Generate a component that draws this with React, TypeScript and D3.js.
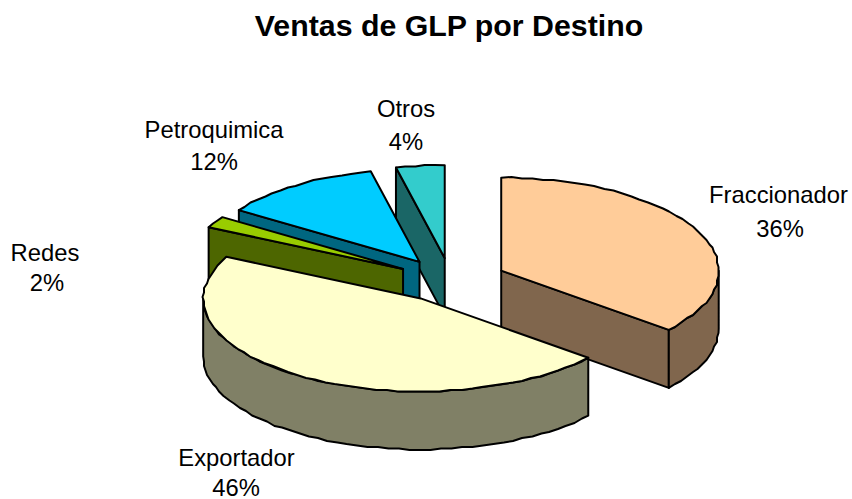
import React from "react";
import * as d3 from "d3";

const categories = ["Fraccionador", "Exportador", "Redes", "Petroquimica", "Otros"];
const values = [36.0, 46.4, 2.0, 12.0, 3.6];
const topColors = ["#FFCC99", "#FFFFCC", "#99CC00", "#00CCFF", "#33CCCC"];
const sideColors = ["#80664D", "#808066", "#4D6600", "#006680", "#1A6666"];
const labelAnchors: [number, number, number, number][] = [
  [778.5, 203, 780, 237],
  [236.5, 466, 236, 496],
  [45, 261, 47, 291],
  [214, 138, 214, 170],
  [406, 117, 406, 150],
];
const drawOrder = [4, 3, 2, 0, 1];

const W = 852;
const H = 499;
const CX = 451;
const CY = 280;
const RX = 217.5;
const RY = 93;
const DEPTH = 58;
const EX = 55.5;
const EY = 22;
const GRID = 1.5;

type Pt = [number, number];
const toPath = (pts: Pt[]) => d3.line()(pts) + "Z";
const snap = (p: Pt): Pt => [Math.round(p[0] / GRID) * GRID, Math.round(p[1] / GRID) * GRID];

export default function App() {
  const arcs = d3.pie<number>().sort(null).startAngle(0).endAngle(2 * Math.PI)(values);
  const percent = d3.format(".0f");

  const slices = arcs.map((a, i) => {
    const mid = (a.startAngle + a.endAngle) / 2;
    const ox = CX + EX * Math.sin(mid);
    const oy = CY - EY * Math.cos(mid);
    const at = (t: number, dy = 0): Pt => [
      ox + RX * Math.sin(t),
      oy - RY * Math.cos(t) + dy,
    ];
    const apex: Pt = [ox, oy];
    const sweep = (t0: number, t1: number, dy = 0): Pt[] => {
      const n = Math.max(2, Math.ceil(Math.abs(t1 - t0) / 0.05));
      return d3.range(n + 1).map((k) => {
        const p = at(t0 + ((t1 - t0) * k) / n, dy);
        return k === 0 || k === n ? p : snap(p);
      });
    };
    const top = toPath([apex, ...sweep(a.startAngle, a.endAngle)]);
    const faces: string[] = [];
    const lo = Math.max(a.startAngle, Math.PI / 2);
    const hi = Math.min(a.endAngle, (3 * Math.PI) / 2);
    if (Math.sin(a.startAngle) < 0) {
      const e = at(a.startAngle);
      faces.push(toPath([apex, e, [e[0], e[1] + DEPTH], [apex[0], apex[1] + DEPTH]]));
    }
    if (Math.sin(a.endAngle) > 0 && a.endAngle > Math.PI / 2 && i === 0) {
      const e = at(a.endAngle);
      faces.push(toPath([apex, e, [e[0], e[1] + DEPTH], [apex[0], apex[1] + DEPTH]]));
    }
    if (hi > lo) {
      faces.push(toPath([...sweep(lo, hi), ...sweep(lo, hi, DEPTH).reverse()]));
    }
    return { i, top, faces };
  });

  const stroke = { stroke: "#000", strokeWidth: 2, strokeLinejoin: "round" as const };

  return (
    <svg
      width={W}
      height={H}
      viewBox={`0 0 ${W} ${H}`}
      style={{ position: "absolute", left: 0, top: 0, display: "block", background: "#fff" }}
      fontFamily="'Liberation Sans', Arial, sans-serif"
    >
      <text x={449} y={36} textAnchor="middle" fontSize={30.3} fontWeight="bold">
        Ventas de GLP por Destino
      </text>
      {drawOrder.map((idx) => {
        const s = slices[idx];
        return (
          <g key={categories[idx]}>
            {s.faces.map((d, k) => (
              <path key={k} d={d} fill={sideColors[idx]} {...stroke} />
            ))}
            <path d={s.top} fill={topColors[idx]} {...stroke} />
          </g>
        );
      })}
      {categories.map((c, i) => {
        const [x1, y1, x2, y2] = labelAnchors[i];
        return (
          <g key={c} fontSize={23.8} fill="#000" textAnchor="middle">
            <text x={x1} y={y1}>{c}</text>
            <text x={x2} y={y2}>{percent(values[i])}%</text>
          </g>
        );
      })}
    </svg>
  );
}
